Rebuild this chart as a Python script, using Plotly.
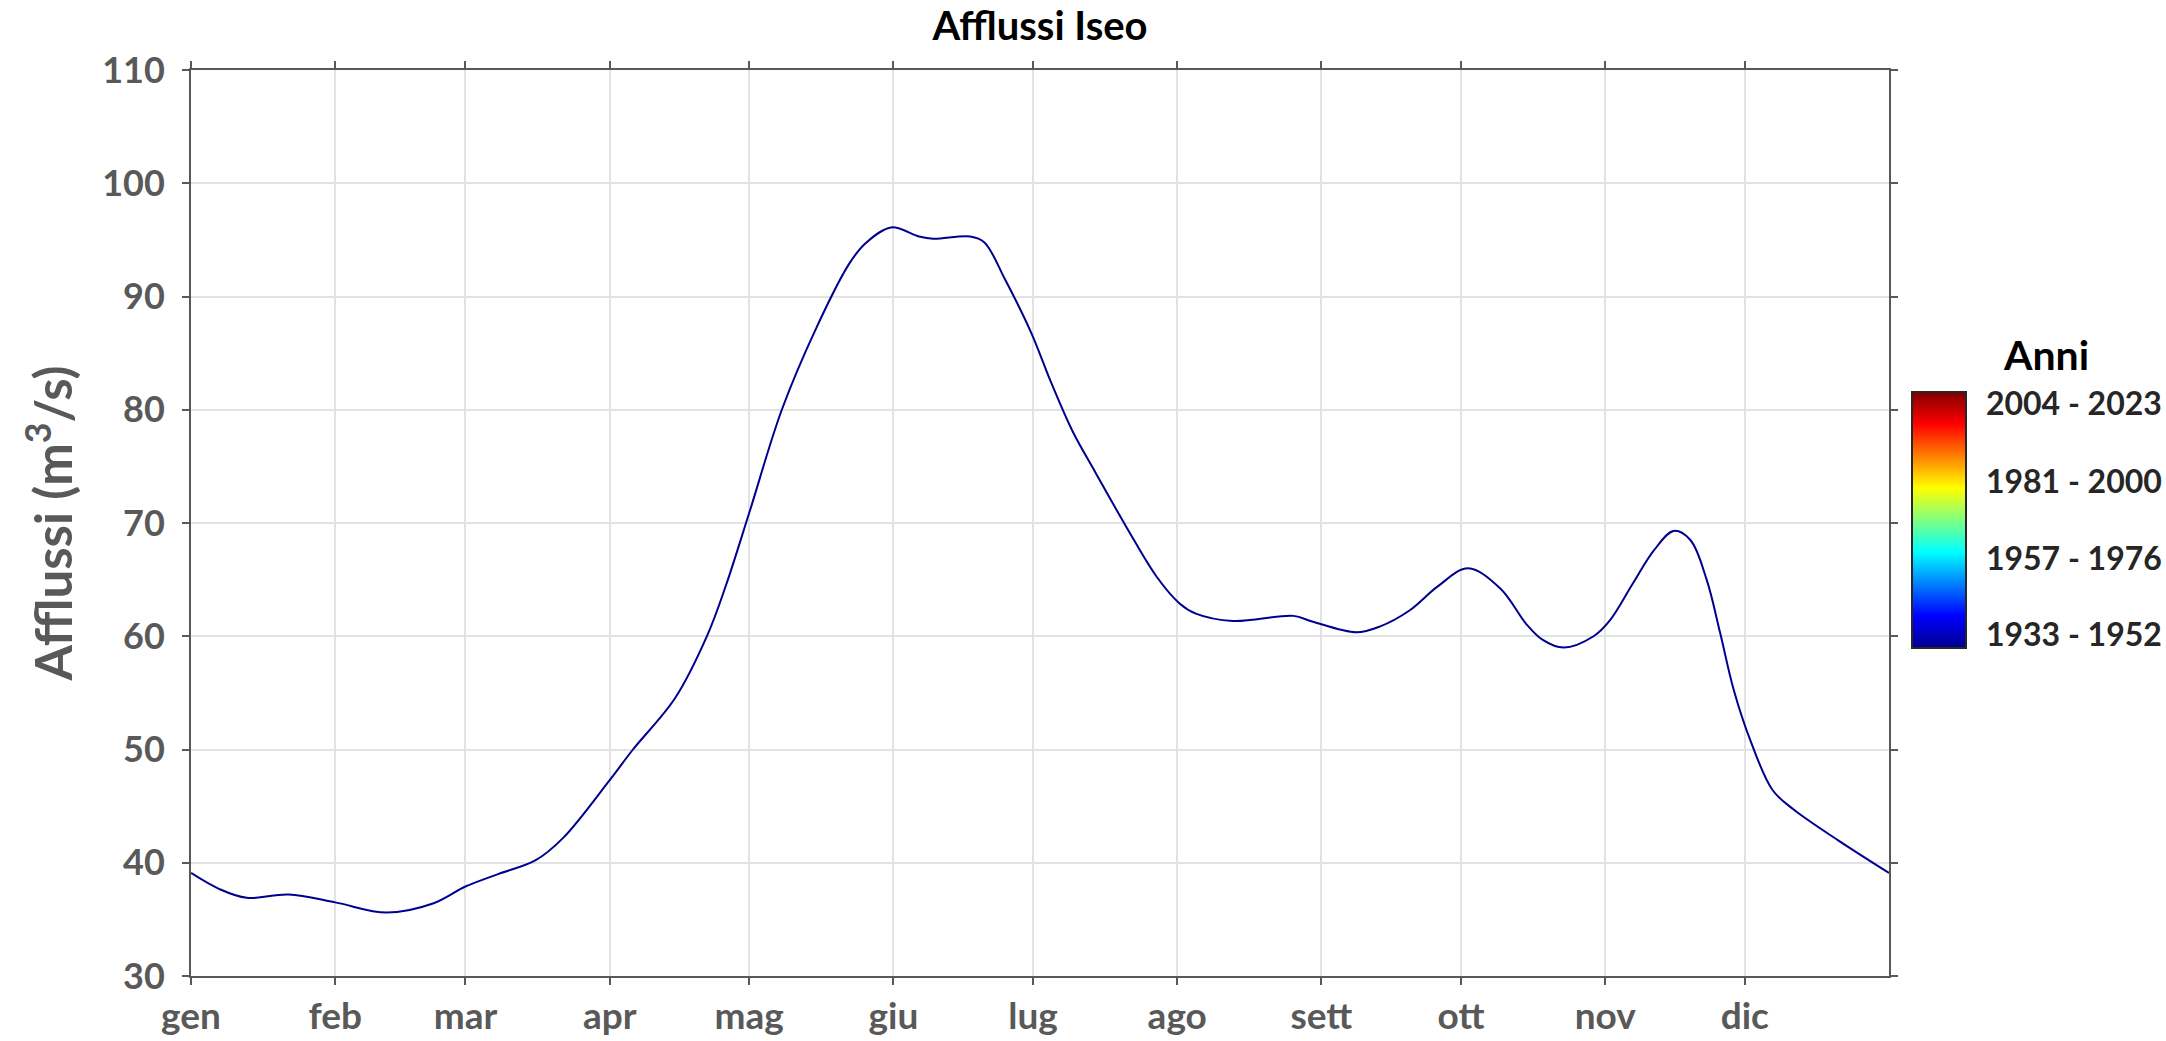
import plotly.graph_objects as go

# day of year (0 = 1 gen) and mean inflow (m3/s)
days = [0, 6, 12, 21, 31, 42, 52, 59, 66, 74, 80, 90, 95, 104, 111, 115, 120,
        127, 134.5, 141.5, 145, 150.5, 156.5, 159.5, 167.5, 170.5, 175, 180.5, 185,
        189.5, 194.5, 201, 207.5, 212.5, 216, 224, 237, 241, 250.5, 255.5, 262, 268,
        274.5, 281.5, 287, 290.5, 295, 301.5, 305, 310, 314.5, 318.7, 322.3, 325.8,
        328.7, 331.6, 335.2, 340, 344.5, 354, 365]
afflussi = [39.1, 37.7, 36.9, 37.2, 36.5, 35.6, 36.4, 37.9, 39.0, 40.2, 42.2,
            47.3, 50.0, 54.5, 60.1, 64.5, 70.9, 80.0, 87.3, 92.9, 94.7, 96.1, 95.3,
            95.1, 95.3, 94.8, 91.5, 86.9, 82.3, 78.1, 74.4, 69.7, 65.3, 62.9, 62.0,
            61.35, 61.8, 61.3, 60.35, 60.85, 62.3, 64.4, 66.0, 64.2, 61.1, 59.7, 59.0,
            60.0, 61.4, 64.7, 67.6, 69.3, 68.5, 65.0, 60.3, 55.3, 50.8, 46.4, 44.7,
            42.0, 39.1]

month_starts = [0, 31, 59, 90, 120, 151, 181, 212, 243, 273, 304, 334]
month_labels = ["gen", "feb", "mar", "apr", "mag", "giu", "lug", "ago", "sett",
                "ott", "nov", "dic"]

period_pos = [0.05, 0.35, 0.65, 0.955]
period_labels = ["1933 - 1952", "1957 - 1976", "1981 - 2000", "2004 - 2023"]

jet = [
    [0.0, "rgb(0,0,143)"],
    [0.125, "rgb(0,0,255)"],
    [0.375, "rgb(0,255,255)"],
    [0.625, "rgb(255,255,0)"],
    [0.875, "rgb(255,0,0)"],
    [1.0, "rgb(128,0,0)"],
]

FONT = "Lato"
AXIS_GRAY = "#595959"

W, H = 2166, 1041
ML, MR, MT, MB = 191, 277, 70, 65
PW, PH = W - ML - MR, H - MT - MB


def px_x(x):
    # page pixel -> paper x
    return (x - ML) / PW


def px_y(y):
    # page pixel -> paper y
    return (H - MB - y) / PH


fig = go.Figure()

fig.add_trace(
    go.Scatter(
        x=days,
        y=afflussi,
        mode="lines",
        line={"color": "rgb(0,0,143)", "width": 2, "shape": "spline", "smoothing": 1},
        showlegend=False,
        hoverinfo="x+y",
    )
)

# dummy trace carrying the colour bar
fig.add_trace(
    go.Scatter(
        x=[None],
        y=[None],
        mode="markers",
        showlegend=False,
        marker={
            "color": [0],
            "cmin": 0,
            "cmax": 1,
            "colorscale": jet,
            "showscale": True,
            "colorbar": {
                "x": px_x(1912),
                "xanchor": "left",
                "y": px_y(520),
                "yanchor": "middle",
                "len": 256,
                "lenmode": "pixels",
                "thickness": 54,
                "thicknessmode": "pixels",
                "outlinewidth": 2,
                "outlinecolor": "#262626",
                "tickvals": period_pos,
                "ticktext": period_labels,
                "ticks": "outside",
                "ticklen": 13,
                "tickwidth": 2,
                "tickcolor": "rgba(0,0,0,0)",
                "tickfont": {"family": FONT, "size": 32, "color": "#262626", "weight": "bold"},
                "xpad": 0,
                "ypad": 0,
            },
        },
    )
)

fig.add_annotation(
    text="Anni",
    x=px_x(2046),
    y=px_y(354),
    xref="paper",
    yref="paper",
    xanchor="center",
    yanchor="middle",
    showarrow=False,
    font={"family": FONT, "size": 41, "color": "black", "weight": "bold"},
)

axis_common = {
    "showline": True,
    "linecolor": AXIS_GRAY,
    "linewidth": 2,
    "mirror": "ticks",
    "ticks": "outside",
    "ticklen": 7,
    "tickwidth": 2,
    "tickcolor": AXIS_GRAY,
    "showgrid": True,
    "gridcolor": "#e3e3e3",
    "gridwidth": 1.5,
    "zeroline": False,
    "automargin": False,
}

fig.update_xaxes(
    range=[0, 365],
    tickmode="array",
    tickvals=month_starts,
    ticktext=month_labels,
    tickfont={"family": FONT, "size": 37, "color": AXIS_GRAY, "weight": "bold"},
    **axis_common,
)
fig.update_yaxes(
    range=[30, 110],
    dtick=10,
    tick0=30,
    ticklabelstandoff=10,
    tickfont={"family": FONT, "size": 36, "color": AXIS_GRAY, "weight": "bold"},
    title={
        "text": "Afflussi (m<sup>3</sup>/s)",
        "font": {"family": FONT, "size": 51, "color": AXIS_GRAY, "weight": "bold"},
        "standoff": 13,
    },
    **axis_common,
)

fig.update_layout(
    width=W,
    height=H,
    autosize=False,
    margin={"l": ML, "r": MR, "t": MT, "b": MB, "autoexpand": False},
    paper_bgcolor="white",
    plot_bgcolor="white",
    title={
        "text": "Afflussi Iseo",
        "x": 0.5,
        "xref": "paper",
        "xanchor": "center",
        "y": 1 - 26 / H,
        "yanchor": "middle",
        "font": {"family": FONT, "size": 40, "color": "black", "weight": "bold"},
    },
    showlegend=False,
)

# drop the default 8px body margin so the figure fills the window exactly
fig.write_html(
    "out.html",
    config={"displayModeBar": False},
    post_script="document.body.style.margin = '0';",
)
